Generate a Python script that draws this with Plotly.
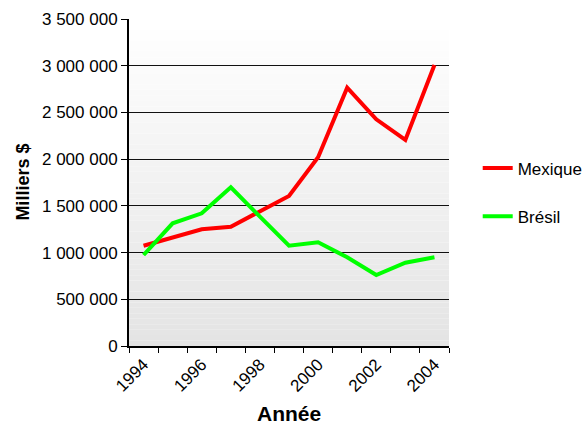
import plotly.graph_objects as go

years = [1994, 1995, 1996, 1997, 1998, 1999, 2000, 2001, 2002, 2003, 2004]
mexique = [1073000, 1163000, 1249000, 1277000, 1442000, 1606000, 2020000, 2765000, 2426000, 2205000, 3008000]
bresil = [974000, 1313000, 1420000, 1698000, 1384000, 1074000, 1110000, 949000, 760000, 892000, 949000]
year_labels = [1994, 1996, 1998, 2000, 2002, 2004]

FONT = "Liberation Sans, Arial, sans-serif"

fig = go.Figure()
fig.add_trace(go.Scatter(x=years, y=mexique, mode="lines", name="Mexique",
                         line=dict(color="#ff0000", width=4), legendgroup="a"))
fig.add_trace(go.Scatter(x=years, y=bresil, mode="lines", name="Brésil",
                         line=dict(color="#00ff00", width=4), legendgroup="b"))

# vertical gradient background
n = 60
for i in range(n):
    t = i / (n - 1)
    c = int(round(255 - (255 - 228) * t))
    fig.add_shape(type="rect", xref="paper", yref="paper",
                  x0=0, x1=1, y0=1 - (i + 1) / n, y1=1 - i / n,
                  fillcolor=f"rgb({c},{c},{c})", line=dict(width=0), layer="below")

fig.update_layout(
    width=584, height=424,
    margin=dict(l=129, r=135, t=19, b=78),
    paper_bgcolor="white", plot_bgcolor="rgba(0,0,0,0)",
    separators=", ",
    font=dict(family=FONT, size=17, color="black"),
    showlegend=True,
    legend=dict(xref="container", yref="container", x=0.818, y=0.546,
                xanchor="left", yanchor="middle",
                tracegroupgap=23, font=dict(size=17, family=FONT),
                bgcolor="rgba(0,0,0,0)"),
    xaxis=dict(range=[1993.5, 2004.5], tickmode="array", tickvals=year_labels,
               ticktext=[str(y) for y in year_labels], tickangle=-45,
               ticks="", showgrid=False, zeroline=False, automargin=False,
               showline=True, linecolor="black", linewidth=2,
               tickfont=dict(size=17, family=FONT),
               minor=dict(tick0=1993.5, dtick=1, ticks="outside", ticklen=5,
                          tickcolor="black", showgrid=False)),
    yaxis=dict(range=[0, 3500000], dtick=500000, tickformat=",d",
               ticks="outside", ticklen=6, tickcolor="black", automargin=False,
               showgrid=True, gridcolor="#111111", gridwidth=1, zeroline=False,
               showline=True, linecolor="black", linewidth=2,
               tickfont=dict(size=17, family=FONT)),
    annotations=[
        dict(text="<b>Année</b>", xref="paper", yref="paper", x=0.5, y=-0.205,
             xanchor="center", yanchor="middle", showarrow=False,
             font=dict(size=21, family=FONT)),
        dict(text="<b>Milliers $</b>", xref="paper", yref="paper", x=-0.334, y=0.5,
             xanchor="center", yanchor="middle", showarrow=False, textangle=-90,
             font=dict(size=18, family=FONT)),
    ],
)

fig.write_html("out.html", config={"displayModeBar": False},
               post_script="document.body.style.margin='0';document.body.style.overflow='hidden';")
